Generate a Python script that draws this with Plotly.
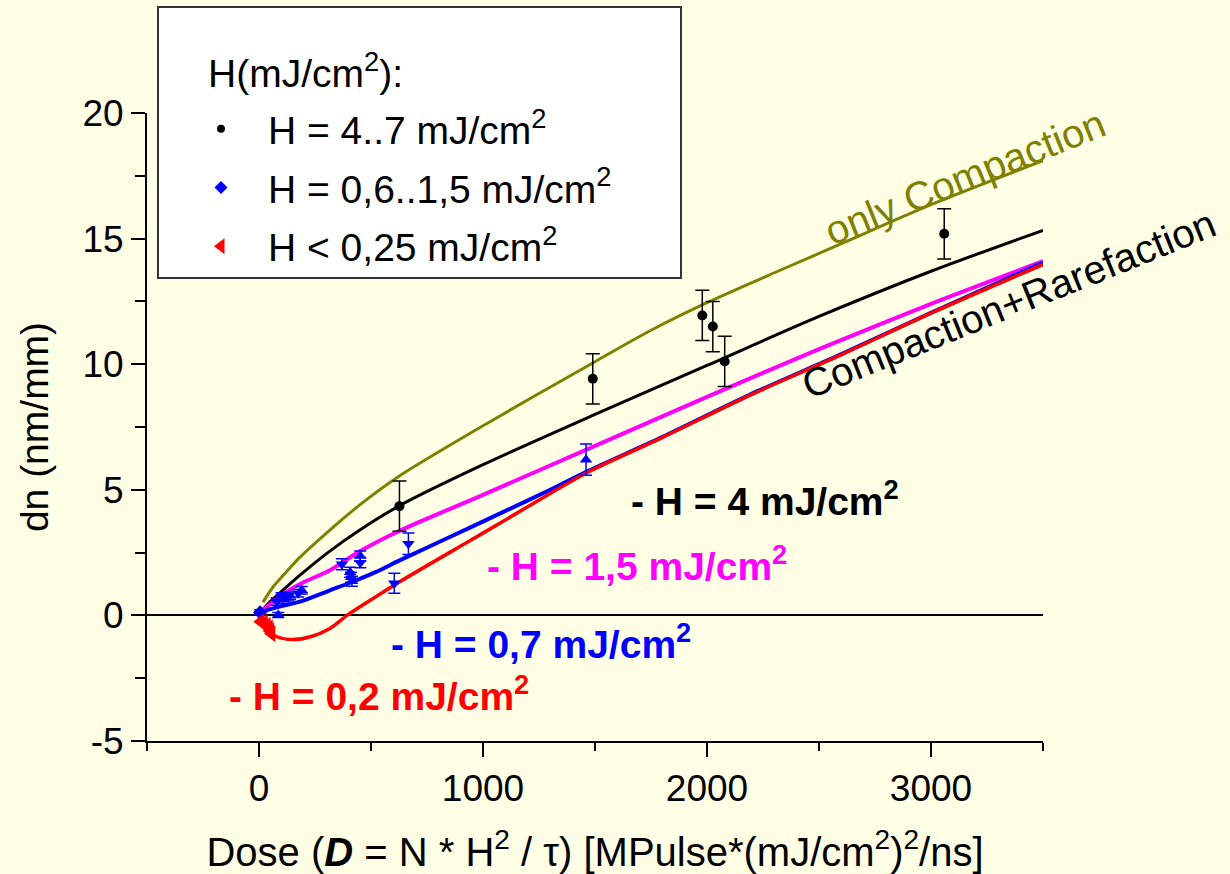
import plotly.graph_objects as go

# ---------------- data ----------------
black_x = [627, 1490, 1979, 2026, 2079, 3059]
black_y = [4.35, 9.42, 11.94, 11.5, 10.11, 15.19]
black_err = [1.0, 1.0, 1.0, 1.0, 1.0, 1.0]

blue_x = [5, 79, 86, 101, 108, 130, 139, 175, 191, 370, 407, 411, 415, 452, 452, 604, 667, 1460]
blue_y = [0.12, 0.55, 0.02, 0.75, 0.62, 0.72, 0.78, 0.88, 1.0, 2.04, 1.72, 1.52, 1.36, 2.36, 2.1, 1.28, 2.85, 6.2]
blue_err = [0.1, 0.15, 0.1, 0.15, 0.15, 0.15, 0.15, 0.15, 0.15, 0.22, 0.2, 0.2, 0.2, 0.2, 0.2, 0.4, 0.43, 0.62]
blue_sym = ["diamond", "triangle-down", "triangle-up", "triangle-down", "triangle-up", "triangle-down",
            "triangle-up", "triangle-down", "triangle-up", "triangle-down", "triangle-up", "triangle-up",
            "triangle-up", "triangle-up", "triangle-down", "triangle-down", "triangle-down", "triangle-up"]

red_x = [8, 22, 35, 45, 50, 56]
red_y = [-0.25, -0.3, -0.4, -0.5, -0.62, -0.72]

comp_x = [18, 60, 124, 183, 300, 450, 630, 1000, 1500, 1750, 2000, 2329, 2600, 3000, 3500]
comp_y = [0.52, 1.1, 1.75, 2.32, 3.27, 4.4, 5.57, 7.55, 10.1, 11.35, 12.45, 13.75, 14.8, 16.35, 18.1]

h4_x = [0, 50, 100, 183, 300, 450, 630, 1000, 1500, 2000, 2500, 3000, 3500]
h4_y = [0.05, 0.55, 0.95, 1.6, 2.45, 3.4, 4.38, 6.0, 8.0, 9.95, 11.9, 13.7, 15.33]

h15_x = [10, 50, 100, 183, 317, 450, 630, 1000, 1500, 2000, 2500, 3000, 3500]
h15_y = [0.15, 0.45, 0.8, 1.25, 1.8, 2.55, 3.38, 4.8, 6.75, 8.7, 10.6, 12.4, 14.1]

h07_x = [5, 50, 100, 183, 317, 407, 520, 630, 854, 1077, 1300, 1457, 1800, 2195, 2600, 3000, 3500]
h07_y = [0.12, 0.25, 0.37, 0.55, 1.0, 1.3, 1.72, 2.2, 3.13, 4.06, 5.0, 5.7, 7.1, 8.8, 10.4, 12.05, 14.05]

h02_x = [0, 40, 80, 150, 230, 317, 393, 500, 630, 943, 1077, 1300, 1457, 1800, 2195, 2600, 3000, 3500]
h02_y = [-0.05, -0.6, -0.85, -0.96, -0.85, -0.52, 0.0, 0.62, 1.35, 2.98, 3.68, 4.85, 5.65, 7.08, 8.78, 10.38, 12.03, 13.97]

x_ticks = [0, 1000, 2000, 3000]
y_ticks = [-5, 0, 5, 10, 15, 20]
y_tick_text = ["-5", "0", "5", "10", "15", "20"]

FONT = "Liberation Sans, Arial, sans-serif"
BG = "#FFFFE6"
OLIVE = "#808000"

fig = go.Figure()

# model curves
for xs, ys, col, w in [(comp_x, comp_y, OLIVE, 3), (h4_x, h4_y, "black", 3),
                        (h15_x, h15_y, "#FF00FF", 4), (h07_x, h07_y, "#0000FF", 4),
                        (h02_x, h02_y, "#FF0000", 3.5)]:
    fig.add_trace(go.Scatter(x=xs, y=ys, mode="lines", line=dict(color=col, width=w, shape="spline", smoothing=0.8),
                             showlegend=False, hoverinfo="skip"))

# data points
fig.add_trace(go.Scatter(x=black_x, y=black_y, mode="markers", showlegend=False,
                         marker=dict(color="black", size=10, symbol="circle"),
                         error_y=dict(type="data", array=black_err, color="black", thickness=1.5, width=7)))
fig.add_trace(go.Scatter(x=blue_x, y=blue_y, mode="markers", showlegend=False,
                         marker=dict(color="#0000FF", size=11, symbol=blue_sym),
                         error_y=dict(type="data", array=blue_err, color="#0000FF", thickness=1.5, width=6)))
fig.add_trace(go.Scatter(x=red_x, y=red_y, mode="markers", showlegend=False,
                         marker=dict(color="#FF0000", size=15, symbol="triangle-left")))

# legend entries
fig.add_trace(go.Scatter(x=[None], y=[None], mode="markers", name="H = 4..7 mJ/cm<sup>2</sup>",
                         marker=dict(color="black", size=8, symbol="circle"), legendgroup="a"))
fig.add_trace(go.Scatter(x=[None], y=[None], mode="markers", name="H = 0,6..1,5 mJ/cm<sup>2</sup>",
                         marker=dict(color="#0000FF", size=10, symbol="diamond"), legendgroup="b"))
fig.add_trace(go.Scatter(x=[None], y=[None], mode="markers", name="H < 0,25 mJ/cm<sup>2</sup>",
                         marker=dict(color="#FF0000", size=14, symbol="triangle-left"), legendgroup="c"))

W, H = 1230, 874
L, R, T, B = 147, 187, 113, 133
pw, ph = W - L - R, H - T - B

def px(xp):
    return (xp - L) / pw

def py(yp):
    return (H - B - yp) / ph

# legend box
fig.add_shape(type="rect", xref="paper", yref="paper", x0=px(158), x1=px(681), y0=py(278), y1=py(7),
              fillcolor="white", line=dict(color="#333333", width=2), layer="above")
fig.add_annotation(xref="paper", yref="paper", x=px(206), y=py(70), xanchor="left", yanchor="middle",
                   text="H(mJ/cm<sup>2</sup>):", showarrow=False, font=dict(family=FONT, size=39, color="black"))

annots = [
    dict(text="only Compaction", x=3150, y=17.45, color=OLIVE, angle=-22),
    dict(text="Compaction+Rarefaction", x=3345, y=12.4, color="black", angle=-22),
]
for a in annots:
    fig.add_annotation(x=a["x"], y=a["y"], text=a["text"], showarrow=False, textangle=a["angle"],
                       font=dict(family=FONT, size=40, color=a["color"]))

labels = [
    ("- H = 4 mJ/cm<sup>2</sup>", 1650, 4.65, "black"),
    ("- H = 1,5 mJ/cm<sup>2</sup>", 1010, 2.05, "#FF00FF"),
    ("- H = 0,7 mJ/cm<sup>2</sup>", 580, -1.05, "#0000FF"),
    ("- H = 0,2 mJ/cm<sup>2</sup>", -145, -3.1, "#FF0000"),
]
for t, x, y, c in labels:
    fig.add_annotation(x=x, y=y, text="<b>" + t + "</b>", showarrow=False, xanchor="left", yanchor="middle",
                       font=dict(family=FONT, size=39, color=c))

fig.update_layout(
    width=W, height=H,
    margin=dict(l=L, r=R, t=T, b=B, autoexpand=False),
    paper_bgcolor=BG, plot_bgcolor=BG,
    font=dict(family=FONT, size=37, color="black"),
    legend=dict(x=px(174), y=py(97), xanchor="left", yanchor="top", itemwidth=84,
                bgcolor="rgba(0,0,0,0)", borderwidth=0, tracegroupgap=5,
                font=dict(family=FONT, size=39, color="black")),
    xaxis=dict(range=[-500, 3500], tickvals=x_ticks, showgrid=False, zeroline=False, automargin=False,
               showline=True, linecolor="black", linewidth=2, ticks="outside", ticklen=14, tickwidth=2,
               tickcolor="black", minor=dict(dtick=500, tick0=0, ticks="outside", ticklen=8, tickwidth=2, tickcolor="black"),
               tickfont=dict(family=FONT, size=37),
               title=dict(text="Dose (<b><i>D</i></b> = N * H<sup>2</sup> / τ) [MPulse*(mJ/cm<sup>2</sup>)<sup>2</sup>/ns]",
                          font=dict(family=FONT, size=40), standoff=33)),
    yaxis=dict(range=[-5, 20], tickvals=y_ticks, ticktext=y_tick_text, showgrid=False, automargin=False,
               zeroline=True, zerolinecolor="black", zerolinewidth=2,
               showline=True, linecolor="black", linewidth=2, ticks="outside", ticklen=14, tickwidth=2,
               tickcolor="black", minor=dict(dtick=2.5, tick0=0, ticks="outside", ticklen=10, tickwidth=2, tickcolor="black"),
               tickfont=dict(family=FONT, size=37),
               title=dict(text="dn (nm/mm)", font=dict(family=FONT, size=39), standoff=22)),
)

fig.write_html("out.html")
